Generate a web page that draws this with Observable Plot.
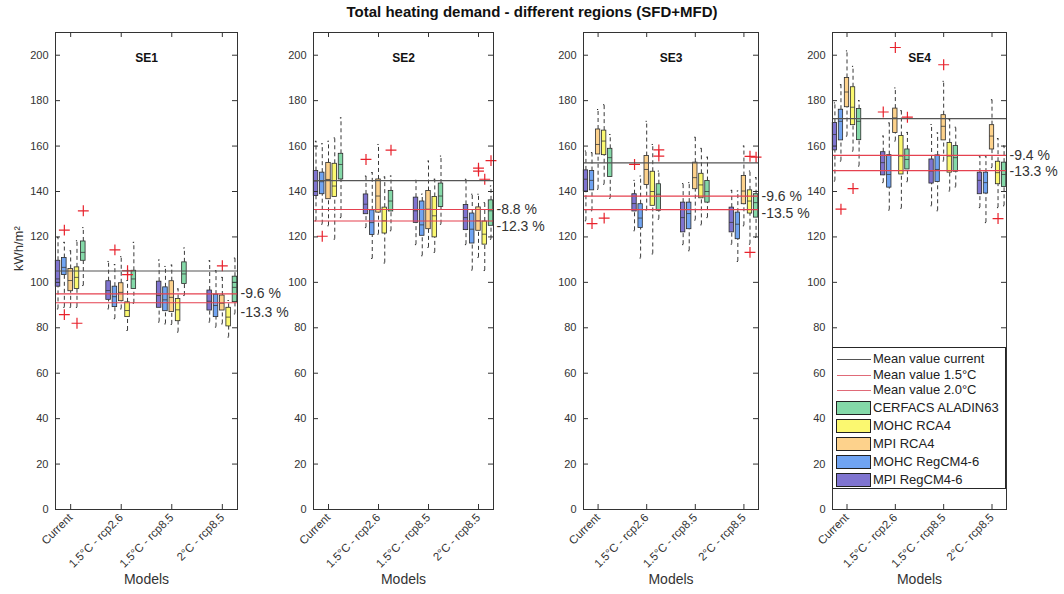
<!DOCTYPE html>
<html><head><meta charset="utf-8">
<script src="https://cdn.jsdelivr.net/npm/d3@7"></script>
<script src="https://cdn.jsdelivr.net/npm/@observablehq/plot@0.6"></script>
<style>
body{margin:0;background:#fff;font-family:"Liberation Sans",Arial,sans-serif;}
#wrap{position:relative;width:1064px;height:594px;overflow:hidden;background:#fff;}
#title{position:absolute;left:0;top:3px;width:1064px;text-align:center;font-weight:bold;font-size:15px;color:#111;}
.panel{position:absolute;top:22px;}
.panel svg{overflow:visible;background:none;}
#legend{position:absolute;left:832px;top:347px;width:172px;height:140px;border:1px solid #262626;background:#fff;font-size:13px;color:#222;}
.lrow{position:absolute;left:0;height:16px;line-height:16px;}
.lline{position:absolute;left:4px;width:34px;height:0;border-top:1.2px solid;}
.lpatch{position:absolute;left:3px;width:33px;height:12px;border:1px solid #222;}
.ltext{position:absolute;left:40px;white-space:nowrap;}
</style></head>
<body><div id="wrap"><div id="title">Total heating demand - different regions (SFD+MFD)</div></div>
<script>
const regions = ["SE1","SE2","SE3","SE4"];
const scenarios = ["Current","1.5°C - rcp2.6","1.5°C - rcp8.5","2°C - rcp8.5"];
const models = ["MPI RegCM4-6","MOHC RegCM4-6","MPI RCA4","MOHC RCA4","CERFACS ALADIN63"];
const modelColors = ["#7f74d0","#70a4f2","#fdd28c","#fbf870","#84d9a8"];
const yTicks = [0,20,40,60,80,100,120,140,160,180,200];
const meanCurrent = [105, 144.8, 152.6, 172.1];
const pct15 = [-9.6, -8.8, -9.6, -9.4];
const pct20 = [-13.3, -12.3, -13.5, -13.3];
const lineLabels = ["Mean value current","Mean value 1.5°C","Mean value 2.0°C"];

// box stats per region: [whiskerLow, q1, median, q3, whiskerHigh], scenario-major, model-minor
const se1Stats = [
 [88.3,98.1,101.5,109.5,119.8],[89,103.2,106.6,110.7,117.6],[89,96.1,100.8,105.9,113.9],[89,97.1,102.2,106.6,118.3],[98.6,109.5,113.2,118,124.1],
 [88.3,92.3,96.4,100.5,109.2],[84,89.1,93.7,98.1,107.8],[88.3,91.7,95.6,99.6,111.3],[78.8,84.7,87.6,91.2,100.8],[90.8,97.1,101.5,105.1,117.6],
 [82.5,88.8,94.2,100.3,109.8],[81.7,87.3,92.3,97.8,107],[81.5,86.9,93.4,100.5,107.6],[78.1,82.9,87.9,92.7,97.1],[94.2,99.3,103.7,108.8,115.1],
 [82.5,87.6,91.7,96.4,109.5],[80.3,84.7,89.8,94.6,105.1],[81.7,87.6,90.8,94.2,102.2],[75.9,80.6,84.7,88.8,92],[86.1,91.3,97.8,102.5,110.7]
];
const se2Stats = [
 [127.1,138,144.6,149,162.1],[125.6,138.8,144.3,148.3,161],[124.9,136.6,145.3,152.6,162.1],[119,137.6,142.4,152.2,163.6],[128.5,145.3,151.9,156.6,172.4],
 [124.1,130,134.4,138.7,146.8],[110.5,120.9,126.3,131.7,148.3],[121.2,130.7,138,145.3,160.7],[108.5,121.5,127.1,132.9,146.4],[122.7,131.2,135.8,140.2,146.8],
 [116.6,126.2,131.5,137.3,144.9],[111.7,120.5,125.3,135.6,138.8],[115.4,123.4,132.2,140.2,153.4],[113.2,119.8,129.3,137.6,145.4],[125.6,133.2,138,143.5,155.6],
 [116.6,123,128.5,134.1,145.4],[105.4,117.1,123.4,130.3,138.8],[111,122.7,127.1,133,138.8],[105.2,116.6,121.2,126.8,135.1],[119,124.9,131.5,136.1,142.4]
];
const se3Stats = [
 [127.1,140,145.4,149.3,157.8],[131.5,140.5,144.9,149,157.1],[141,156.3,160.7,167.3,176.1],[143.2,156,162.2,166.8,178.2],[137,146.4,154.9,158.8,165.1],
 [122.7,131.2,134.7,138.8,144.9],[110.7,123.9,128.3,134.4,146.8],[131.8,142.9,149.7,155.6,170.9],[112.5,133.7,140,148.7,160.7],[127.8,131.5,138.8,143.2,149],
 [116.6,122,128.5,135.1,143.5],[113.9,123.4,130.3,135.1,143.9],[127.4,141,146.1,152.7,163.9],[125.3,137,142.9,147.8,159],[128.5,135.1,140,144.6,155.1],
 [116.8,122,126.4,132.9,140.5],[109.2,119,125.6,130.7,140.2],[124.9,134.4,140.2,146.8,160],[116.8,130.3,135.8,140.5,149],[119.8,128.5,135.1,138.8,146.1]
];
const se4Stats = [
 [144.6,158.1,165.1,170.2,179],[153.4,162.5,170.9,176,187],[164.4,177.1,183.8,190,201.9],[157.8,169.2,177.1,185.9,195.1],[151.2,162.6,170.9,176.3,180],
 [143.9,147.1,152.7,157.3,164.4],[131.8,141.7,147.5,156,170.2],[162.2,165.8,172.4,176.5,185.6],[132.6,147.5,155.6,164.4,175.6],[144.3,149.7,154.1,158.5,166],
 [133.7,143.5,149,154.1,169.5],[131.5,144.2,149.7,155.9,165.8],[153.4,162.5,168.7,173.6,188.5],[140.2,148.3,155.6,161.4,171.7],[142,148.7,154.9,160,168.3],
 [132.9,138.8,144.9,148.3,155.6],[126.3,139.1,143.9,148.3,155.6],[150.5,158.5,164.4,169.2,180.4],[132.9,143.2,148.3,153.1,163.3],[133.7,142,147.5,152.7,160]
];
// outliers: [scenario index, model index, value]
const se1Outliers = [[0,1,123],[0,1,85.8],[0,3,82],[0,4,131.5],[1,1,114.3],[1,3,105.1],[1,3,103.4],[3,2,107.3]];
const se2Outliers = [[0,1,120.3],[1,0,154.1],[1,4,158.2],[3,2,150.3],[3,2,149],[3,3,145.4],[3,4,153.6]];
const se3Outliers = [[0,1,125.9],[0,3,128.3],[1,0,151.9],[1,4,158.3],[1,4,155.6],[3,3,155.5],[3,3,113.2],[3,4,155.1]];
const se4Outliers = [[0,1,132.2],[0,3,141.3],[1,0,175],[1,2,203.4],[1,4,172.7],[2,2,195.8],[3,3,128.1]];

const allStats = [se1Stats, se2Stats, se3Stats, se4Stats];
const allOutliers = [se1Outliers, se2Outliers, se3Outliers, se4Outliers];

// layout
const frameLeft = [55, 313, 583, 832];
const frameWidth = [182, 180, 175, 174];
const marginL = [55, 45, 45, 45];
const marginR = [60, 60, 60, 56];
const H = 572, mT = 10, mB = 85;
const fh = H - mT - mB;
const xDom = [0.7, 4.3];
const offset = 0.125, bw = 0.045;
const label20dy = [10, 5, 4, 1];

const wrap = document.getElementById("wrap");

regions.forEach((reg, p) => {
  const rows = allStats[p].map((d, i) => ({s: Math.floor(i/5) + 1, m: i % 5, lo: d[0], q1: d[1], med: d[2], q3: d[3], hi: d[4]}));
  const pos = r => r.s + (r.m - 2) * offset;
  const outs = allOutliers[p].map(d => ({s: d[0] + 1, m: d[1], v: d[2]}));
  const m15 = meanCurrent[p] * (1 + pct15[p] / 100);
  const m20 = meanCurrent[p] * (1 + pct20[p] / 100);
  const fw = frameWidth[p];
  const W = marginL[p] + fw + marginR[p];
  const marks = [
    Plot.ruleX(rows, {x: pos, y1: "lo", y2: "q1", stroke: "#222", strokeWidth: 0.9, strokeDasharray: "4,3"}),
    Plot.ruleX(rows, {x: pos, y1: "q3", y2: "hi", stroke: "#222", strokeWidth: 0.9, strokeDasharray: "4,3"}),
    Plot.ruleY(rows, {y: "lo", x1: r => pos(r) - 0.012, x2: r => pos(r) + 0.012, stroke: "#222"}),
    Plot.ruleY(rows, {y: "hi", x1: r => pos(r) - 0.012, x2: r => pos(r) + 0.012, stroke: "#222"}),
    Plot.rect(rows, {x1: r => pos(r) - bw, x2: r => pos(r) + bw, y1: "q1", y2: "q3", fill: r => models[r.m], stroke: "#2a2a2a", strokeWidth: 0.8}),
    Plot.ruleY(rows, {y: "med", x1: r => pos(r) - bw, x2: r => pos(r) + bw, stroke: "#3a3a3a", strokeWidth: 0.8}),
    Plot.dot(outs, {x: pos, y: "v", symbol: "plus", r: 3.6, stroke: "#e8222c", strokeWidth: 1.2}),
    Plot.ruleY([meanCurrent[p]], {stroke: "#555", strokeWidth: 1.2}),
    Plot.ruleY([m15, m20], {stroke: "#e5414f", strokeWidth: 1.1}),
    Plot.text([`${pct15[p]} %`], {x: xDom[1], y: m15, textAnchor: "start", dx: 3, fontSize: 14, fill: "#333"}),
    Plot.text([`${pct20[p]} %`], {x: xDom[1], y: m20, textAnchor: "start", dx: 3, dy: label20dy[p], fontSize: 14, fill: "#333"}),
    Plot.tickY(yTicks, {y: d => d, insetRight: fw - 5, stroke: "#333"}),
    Plot.tickY(yTicks, {y: d => d, insetLeft: fw - 5, stroke: "#333"}),
    Plot.tickX([1,2,3,4], {x: d => d, insetTop: fh - 5, stroke: "#333"}),
    Plot.tickX([1,2,3,4], {x: d => d, insetBottom: fh - 5, stroke: "#333"}),
    Plot.axisY({ticks: yTicks, tickSize: 0, tickPadding: 7, label: null, fontSize: 11}),
    Plot.axisX({ticks: [1,2,3,4], tickFormat: i => scenarios[i - 1], tickSize: 0, tickPadding: 6, tickRotate: -45, label: null, fontSize: 11.5}),
    Plot.frame({stroke: "#333", strokeWidth: 1}),
    Plot.text([reg], {frameAnchor: "top", dy: 21, fontWeight: "bold", fontSize: 12, fill: "#111"}),
    Plot.text(["Models"], {frameAnchor: "bottom", dy: 74, fontSize: 14, fill: "#333"})
  ];
  if (p === 0) marks.push(Plot.text(["kWh/m²"], {frameAnchor: "left", rotate: -90, dx: -37, fontSize: 13, fill: "#333"}));
  const chart = Plot.plot({
    width: W, height: H,
    marginLeft: marginL[p], marginRight: marginR[p], marginTop: mT, marginBottom: mB,
    x: {domain: xDom},
    y: {domain: [0, 210]},
    color: {domain: models, range: modelColors},
    style: {fontFamily: "Liberation Sans, Arial, sans-serif", fontSize: "11px", color: "#333", background: "none", overflow: "visible"},
    marks
  });
  const div = document.createElement("div");
  div.className = "panel";
  div.style.left = (frameLeft[p] - marginL[p]) + "px";
  div.style.width = W + "px";
  div.appendChild(chart);
  wrap.appendChild(div);
});

// legend
const leg = document.createElement("div");
leg.id = "legend";
const lineColors = ["#555", "#e06a78", "#e06a78"];
lineLabels.forEach((t, i) => {
  const r = document.createElement("div");
  r.className = "lrow";
  r.style.top = (3 + i * 15.5) + "px";
  r.style.width = "170px";
  r.innerHTML = `<div class="lline" style="top:8px;border-color:${lineColors[i]}"></div><div class="ltext">${t}</div>`;
  leg.appendChild(r);
});
models.slice().reverse().forEach((t, i) => {
  const c = modelColors[models.length - 1 - i];
  const r = document.createElement("div");
  r.className = "lrow";
  r.style.top = (52 + i * 18) + "px";
  r.style.width = "170px";
  r.innerHTML = `<div class="lpatch" style="top:1px;background:${c}"></div><div class="ltext">${t}</div>`;
  leg.appendChild(r);
});
wrap.appendChild(leg);
</script>
</body></html>
